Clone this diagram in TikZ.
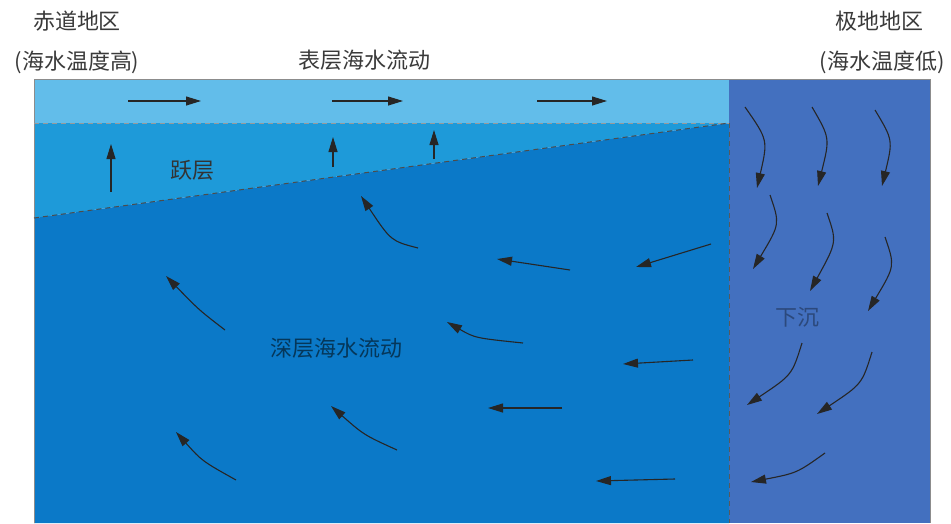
\documentclass[tikz,border=0pt]{standalone}
\usepackage{fontspec}
\setmainfont{Noto Sans CJK SC}
\usetikzlibrary{arrows.meta}

\definecolor{surfblue}{HTML}{62BDEA}
\definecolor{thermoblue}{HTML}{1E9AD9}
\definecolor{deepblue}{HTML}{0B79C8}
\definecolor{polarblue}{HTML}{4370BF}
\definecolor{inkgray}{HTML}{3A3A3A}

\begin{document}
\begin{tikzpicture}[x=1pt,y=-1pt,
  lbl/.style={text=inkgray,font=\fontsize{22}{24}\selectfont,inner sep=0pt},
  flow/.style={draw=black!85,line width=1.1pt,-{Triangle[length=15pt,width=9pt]}},
  layerline/.style={draw=black!60,line width=1pt,dash pattern=on 5pt off 4pt}]
\useasboundingbox (0,0) rectangle (951,523);

% water layers
\fill[surfblue]   (34,79) rectangle (729,123);
\fill[thermoblue] (34,123) -- (729,123) -- (34,218) -- cycle;
\fill[deepblue]   (34,218) -- (729,123) -- (729,523) -- (34,523) -- cycle;
\fill[polarblue]  (729,79) rectangle (930,523);
\draw[black!45,line width=0.8pt] (34,523) -- (34,79) -- (930,79) -- (930,523);

% layer boundaries
\draw[layerline,draw=black!40] (34,123) -- (729,123);
\draw[layerline,draw=black!70] (34,218) -- (729,123);
\draw[layerline,draw=black!65] (729,123) -- (729,523);

% labels
\node[lbl] (equator) at (77,21) {赤道地区};
\node[lbl] (warm)    at (77,62) {(海水温度高)};
\node[lbl] (surface) at (364,60) {表层海水流动};
\node[lbl] (polar)   at (879,21) {极地地区};
\node[lbl] (cold)    at (882,62) {(海水温度低)};
\node[lbl,text=black!80] (thermo) at (192,170) {跃层};
\node[lbl,text=black!55!deepblue] (deep) at (336,348) {深层海水流动};
\node[lbl,text=black!35!polarblue] (sink) at (797,317) {下沉};

% surface flow
\draw[flow] (128,101) -- (201,101);
\draw[flow] (332,101) -- (403,101);
\draw[flow] (537,101) -- (607,101);

% upwelling
\draw[flow] (111,192) -- (111,144);
\draw[flow] (333,167) -- (333,137);
\draw[flow] (434,159) -- (434,130);

% deep flow back to the equator
\draw[flow] (418,248) .. controls (391,241) .. (361,196);
\draw[flow] (570,270) -- (497,259);
\draw[flow] (711,244) -- (636,267);
\draw[flow] (225,330) .. controls (199,310) .. (166,276);
\draw[flow] (523,343) .. controls (475,338) .. (447,322);
\draw[flow] (693,360) -- (623,364);
\draw[flow] (562,408) -- (488,408);
\draw[flow] (397,450) .. controls (364,435) .. (331,406);
\draw[flow] (236,480) .. controls (202,461) .. (176,432);
\draw[flow] (675,479) -- (596,481);

% sinking cold water
\draw[flow] (745,107) .. controls (768,140) .. (757,188);
\draw[flow] (812,107) .. controls (830,138) .. (818,186);
\draw[flow] (875,110) .. controls (893,140) .. (882,186);
\draw[flow] (770,195) .. controls (780,224) .. (753,269);
\draw[flow] (827,213) .. controls (837,242) .. (810,291);
\draw[flow] (885,237) .. controls (895,266) .. (868,311);
\draw[flow] (802,343) .. controls (792,375) .. (747,405);
\draw[flow] (872,352) .. controls (862,384) .. (817,414);
\draw[flow] (825,453) .. controls (797,473) .. (751,482);
\end{tikzpicture}
\end{document}
